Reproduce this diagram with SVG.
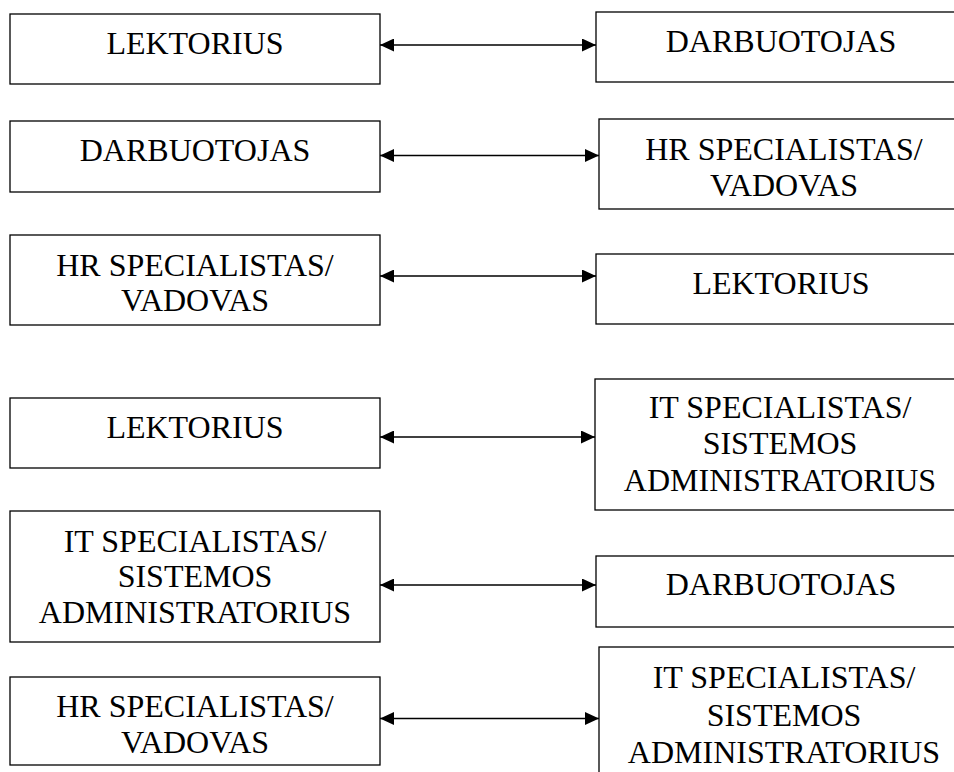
<svg xmlns="http://www.w3.org/2000/svg" width="954" height="772" viewBox="0 0 954 772">
  <style>
    .box { fill: #ffffff; stroke: #000000; stroke-width: 1.3; }
    .lbl { font-family: 'Liberation Serif', 'Times New Roman', Times, serif; font-size: 32px; fill: #000000; text-anchor: middle; }
    .link { stroke: #000000; stroke-width: 1.3; fill: none; marker-start: url(#head); marker-end: url(#head); }
  </style>
  <defs>
    <marker id="head" viewBox="0 0 14 13" refX="14" refY="6.5" markerWidth="14" markerHeight="13" markerUnits="userSpaceOnUse" orient="auto-start-reverse">
      <path d="M0,0 L14,6.5 L0,13 z" fill="#000000"/>
    </marker>
  </defs>

  <rect width="954" height="772" fill="#ffffff"/>

  <g font-family="Liberation Serif, Times New Roman, serif">
  <!-- left column -->
  <g id="l1">
    <rect class="box" x="10" y="14" width="370" height="70"/>
    <text class="lbl" x="195" y="54">LEKTORIUS</text>
  </g>
  <g id="l2">
    <rect class="box" x="10" y="121" width="370" height="71"/>
    <text class="lbl" x="195" y="161">DARBUOTOJAS</text>
  </g>
  <g id="l3">
    <rect class="box" x="10" y="235" width="370" height="90"/>
    <text class="lbl" x="195" y="276">HR SPECIALISTAS/</text>
    <text class="lbl" x="195" y="311">VADOVAS</text>
  </g>
  <g id="l4">
    <rect class="box" x="10" y="398" width="370" height="70"/>
    <text class="lbl" x="195" y="438">LEKTORIUS</text>
  </g>
  <g id="l5">
    <rect class="box" x="10" y="511" width="370" height="131"/>
    <text class="lbl" x="195" y="552">IT SPECIALISTAS/</text>
    <text class="lbl" x="195" y="587">SISTEMOS</text>
    <text class="lbl" x="195" y="623">ADMINISTRATORIUS</text>
  </g>
  <g id="l6">
    <rect class="box" x="10" y="677" width="370" height="88"/>
    <text class="lbl" x="195" y="717">HR SPECIALISTAS/</text>
    <text class="lbl" x="195" y="753">VADOVAS</text>
  </g>

  <!-- right column -->
  <g id="r1">
    <rect class="box" x="596" y="12" width="370" height="70"/>
    <text class="lbl" x="781" y="52">DARBUOTOJAS</text>
  </g>
  <g id="r2">
    <rect class="box" x="599" y="119" width="370" height="90"/>
    <text class="lbl" x="784" y="160">HR SPECIALISTAS/</text>
    <text class="lbl" x="784" y="196">VADOVAS</text>
  </g>
  <g id="r3">
    <rect class="box" x="596" y="254" width="370" height="70"/>
    <text class="lbl" x="781" y="294">LEKTORIUS</text>
  </g>
  <g id="r4">
    <rect class="box" x="595" y="379" width="370" height="131"/>
    <text class="lbl" x="780" y="418">IT SPECIALISTAS/</text>
    <text class="lbl" x="780" y="454">SISTEMOS</text>
    <text class="lbl" x="780" y="491">ADMINISTRATORIUS</text>
  </g>
  <g id="r5">
    <rect class="box" x="596" y="556" width="370" height="71"/>
    <text class="lbl" x="781" y="595">DARBUOTOJAS</text>
  </g>
  <g id="r6">
    <rect class="box" x="599" y="647" width="370" height="140"/>
    <text class="lbl" x="784" y="688">IT SPECIALISTAS/</text>
    <text class="lbl" x="784" y="726">SISTEMOS</text>
    <text class="lbl" x="784" y="763">ADMINISTRATORIUS</text>
  </g>
  </g>

  <!-- two-way links between the columns -->
  <g id="links">
    <line class="link" x1="380" y1="45" x2="596" y2="45"/>
    <line class="link" x1="380" y1="155.5" x2="599" y2="155.5"/>
    <line class="link" x1="380" y1="276" x2="596" y2="276"/>
    <line class="link" x1="380" y1="437" x2="595" y2="437"/>
    <line class="link" x1="380" y1="585" x2="596" y2="585"/>
    <line class="link" x1="380" y1="718.5" x2="599" y2="718.5"/>
  </g>
</svg>
